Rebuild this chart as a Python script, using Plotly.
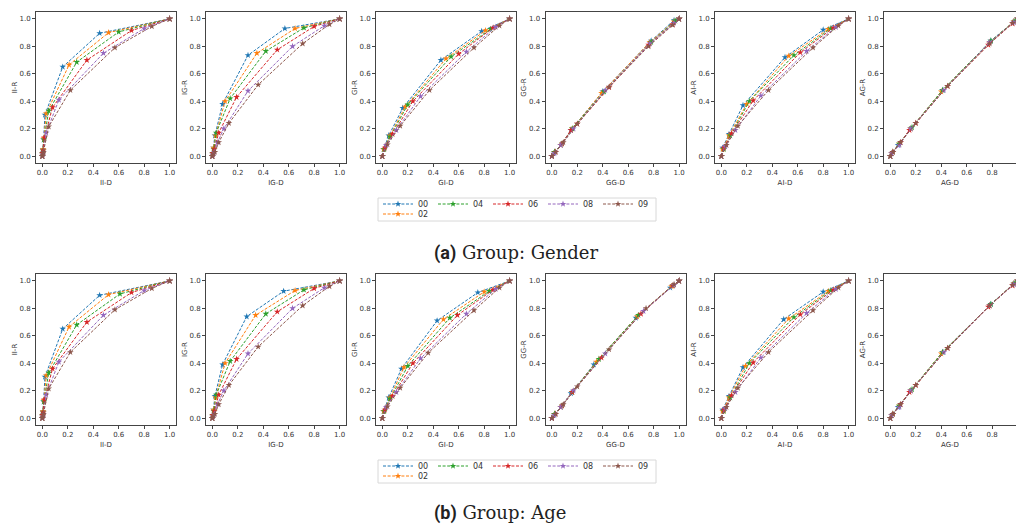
import plotly.graph_objects as go

SERIES = ["00", "02", "04", "06", "08", "09"]
COLORS = ["#1f77b4", "#ff7f0e", "#2ca02c", "#d62728", "#9467bd", "#8c564b"]
PANELS = ["II", "IG", "GI", "GG", "AI", "AG"]

# ---------------- Group: Gender ----------------
GENDER_II_D = [[0, 0.002, 0.005, 0.01, 0.02, 0.16, 0.45, 1.0],
               [0, 0.002, 0.006, 0.012, 0.03, 0.21, 0.52, 1.0],
               [0, 0.002, 0.006, 0.012, 0.05, 0.27, 0.60, 1.0],
               [0, 0.002, 0.007, 0.016, 0.08, 0.35, 0.70, 1.0],
               [0, 0.002, 0.008, 0.03, 0.13, 0.48, 0.80, 1.0],
               [0, 0.002, 0.008, 0.05, 0.22, 0.57, 0.86, 1.0]]
GENDER_II_R = [[0, 0.02, 0.05, 0.12, 0.30, 0.65, 0.895, 1.0],
               [0, 0.02, 0.05, 0.13, 0.31, 0.665, 0.90, 1.0],
               [0, 0.02, 0.04, 0.12, 0.33, 0.685, 0.905, 1.0],
               [0, 0.02, 0.04, 0.135, 0.355, 0.70, 0.915, 1.0],
               [0, 0.01, 0.03, 0.17, 0.41, 0.75, 0.93, 1.0],
               [0, 0.01, 0.03, 0.215, 0.48, 0.79, 0.945, 1.0]]
GENDER_IG_D = [[0, 0.003, 0.01, 0.02, 0.08, 0.28, 0.57, 1.0],
               [0, 0.003, 0.01, 0.025, 0.10, 0.35, 0.65, 1.0],
               [0, 0.004, 0.012, 0.03, 0.14, 0.42, 0.72, 1.0],
               [0, 0.004, 0.015, 0.05, 0.19, 0.51, 0.80, 1.0],
               [0, 0.004, 0.015, 0.04, 0.09, 0.28, 0.63, 0.88, 1.0],
               [0, 0.004, 0.02, 0.05, 0.13, 0.36, 0.71, 0.92, 1.0]]
GENDER_IG_R = [[0, 0.02, 0.06, 0.15, 0.38, 0.735, 0.93, 1.0],
               [0, 0.02, 0.06, 0.15, 0.40, 0.75, 0.93, 1.0],
               [0, 0.02, 0.05, 0.17, 0.42, 0.765, 0.935, 1.0],
               [0, 0.02, 0.05, 0.17, 0.43, 0.775, 0.945, 1.0],
               [0, 0.01, 0.03, 0.10, 0.20, 0.475, 0.80, 0.95, 1.0],
               [0, 0.01, 0.03, 0.10, 0.24, 0.52, 0.82, 0.96, 1.0]]
GENDER_GI_D = [[0, 0.01, 0.05, 0.16, 0.46, 0.78, 1.0],
               [0, 0.01, 0.06, 0.18, 0.50, 0.81, 1.0],
               [0, 0.015, 0.06, 0.20, 0.54, 0.85, 1.0],
               [0, 0.02, 0.08, 0.24, 0.60, 0.87, 1.0],
               [0, 0.03, 0.11, 0.30, 0.66, 0.89, 1.0],
               [0, 0.04, 0.14, 0.37, 0.72, 0.92, 1.0]]
GENDER_GI_R = [[0, 0.05, 0.15, 0.35, 0.70, 0.91, 1.0],
               [0, 0.05, 0.15, 0.36, 0.71, 0.915, 1.0],
               [0, 0.05, 0.14, 0.375, 0.725, 0.925, 1.0],
               [0, 0.06, 0.16, 0.40, 0.745, 0.935, 1.0],
               [0, 0.08, 0.19, 0.435, 0.76, 0.94, 1.0],
               [0, 0.085, 0.22, 0.48, 0.79, 0.95, 1.0]]
GENDER_GG_D = [[0, 0.02, 0.07, 0.15, 0.40, 0.78, 0.96, 1.0],
               [0, 0.02, 0.07, 0.16, 0.39, 0.77, 0.96, 1.0],
               [0, 0.02, 0.08, 0.16, 0.41, 0.78, 0.97, 1.0],
               [0, 0.03, 0.08, 0.15, 0.20, 0.45, 0.76, 0.95, 1.0],
               [0, 0.02, 0.07, 0.17, 0.42, 0.77, 0.96, 1.0],
               [0, 0.03, 0.09, 0.20, 0.45, 0.76, 0.95, 1.0]]
GENDER_GG_R = [[0, 0.03, 0.08, 0.19, 0.47, 0.84, 0.99, 1.0],
               [0, 0.03, 0.08, 0.20, 0.46, 0.83, 0.98, 1.0],
               [0, 0.03, 0.09, 0.20, 0.47, 0.83, 0.985, 1.0],
               [0, 0.03, 0.09, 0.19, 0.235, 0.50, 0.81, 0.96, 1.0],
               [0, 0.02, 0.08, 0.20, 0.48, 0.82, 0.97, 1.0],
               [0, 0.03, 0.10, 0.235, 0.505, 0.80, 0.955, 1.0]]
GENDER_AI_D = [[0, 0.01, 0.06, 0.17, 0.50, 0.80, 1.0],
               [0, 0.01, 0.06, 0.20, 0.53, 0.84, 1.0],
               [0, 0.02, 0.07, 0.22, 0.57, 0.86, 1.0],
               [0, 0.02, 0.08, 0.25, 0.62, 0.88, 1.0],
               [0, 0.03, 0.11, 0.31, 0.67, 0.90, 1.0],
               [0, 0.04, 0.13, 0.37, 0.72, 0.92, 1.0]]
GENDER_AI_R = [[0, 0.06, 0.16, 0.37, 0.72, 0.92, 1.0],
               [0, 0.05, 0.15, 0.38, 0.73, 0.925, 1.0],
               [0, 0.05, 0.15, 0.40, 0.735, 0.93, 1.0],
               [0, 0.06, 0.165, 0.405, 0.755, 0.935, 1.0],
               [0, 0.07, 0.19, 0.44, 0.765, 0.94, 1.0],
               [0, 0.08, 0.22, 0.48, 0.79, 0.95, 1.0]]
GENDER_AG_D = [[0, 0.01, 0.06, 0.16, 0.41, 0.79, 0.97, 1.0],
               [0, 0.01, 0.07, 0.16, 0.40, 0.78, 0.97, 1.0],
               [0, 0.02, 0.07, 0.17, 0.41, 0.79, 0.98, 1.0],
               [0, 0.02, 0.08, 0.15, 0.20, 0.45, 0.77, 0.96, 1.0],
               [0, 0.01, 0.07, 0.16, 0.42, 0.78, 0.97, 1.0],
               [0, 0.02, 0.08, 0.20, 0.45, 0.78, 0.96, 1.0]]
GENDER_AG_R = [[0, 0.02, 0.08, 0.20, 0.48, 0.84, 0.98, 1.0],
               [0, 0.02, 0.09, 0.20, 0.47, 0.83, 0.98, 1.0],
               [0, 0.03, 0.09, 0.21, 0.48, 0.84, 0.985, 1.0],
               [0, 0.03, 0.10, 0.19, 0.24, 0.51, 0.81, 0.965, 1.0],
               [0, 0.02, 0.08, 0.20, 0.48, 0.83, 0.975, 1.0],
               [0, 0.03, 0.10, 0.24, 0.51, 0.82, 0.97, 1.0]]

# ---------------- Group: Age ----------------
AGE_II_D = [[0, 0.002, 0.005, 0.01, 0.02, 0.16, 0.45, 1.0],
            [0, 0.002, 0.006, 0.012, 0.03, 0.21, 0.52, 1.0],
            [0, 0.002, 0.006, 0.012, 0.05, 0.27, 0.61, 1.0],
            [0, 0.002, 0.007, 0.016, 0.08, 0.35, 0.70, 1.0],
            [0, 0.002, 0.008, 0.03, 0.13, 0.48, 0.80, 1.0],
            [0, 0.002, 0.008, 0.05, 0.22, 0.57, 0.86, 1.0]]
AGE_II_R = [[0, 0.02, 0.05, 0.12, 0.30, 0.65, 0.895, 1.0],
            [0, 0.02, 0.05, 0.13, 0.31, 0.665, 0.90, 1.0],
            [0, 0.02, 0.04, 0.12, 0.33, 0.68, 0.905, 1.0],
            [0, 0.02, 0.04, 0.135, 0.36, 0.70, 0.915, 1.0],
            [0, 0.01, 0.03, 0.17, 0.41, 0.75, 0.93, 1.0],
            [0, 0.01, 0.03, 0.215, 0.48, 0.79, 0.945, 1.0]]
AGE_IG_D = [[0, 0.003, 0.01, 0.02, 0.08, 0.27, 0.56, 1.0],
            [0, 0.003, 0.01, 0.025, 0.10, 0.34, 0.65, 1.0],
            [0, 0.004, 0.012, 0.03, 0.14, 0.42, 0.72, 1.0],
            [0, 0.004, 0.015, 0.05, 0.19, 0.51, 0.80, 1.0],
            [0, 0.004, 0.015, 0.04, 0.09, 0.28, 0.63, 0.88, 1.0],
            [0, 0.004, 0.02, 0.05, 0.13, 0.36, 0.71, 0.92, 1.0]]
AGE_IG_R = [[0, 0.02, 0.06, 0.16, 0.39, 0.74, 0.925, 1.0],
            [0, 0.02, 0.06, 0.15, 0.40, 0.75, 0.93, 1.0],
            [0, 0.02, 0.05, 0.17, 0.415, 0.76, 0.935, 1.0],
            [0, 0.02, 0.05, 0.17, 0.43, 0.775, 0.945, 1.0],
            [0, 0.01, 0.03, 0.10, 0.20, 0.47, 0.80, 0.95, 1.0],
            [0, 0.01, 0.03, 0.10, 0.24, 0.52, 0.82, 0.96, 1.0]]
AGE_GI_D = [[0, 0.01, 0.05, 0.15, 0.43, 0.75, 1.0],
            [0, 0.01, 0.06, 0.17, 0.48, 0.80, 1.0],
            [0, 0.015, 0.06, 0.20, 0.53, 0.84, 1.0],
            [0, 0.02, 0.08, 0.24, 0.59, 0.87, 1.0],
            [0, 0.03, 0.11, 0.30, 0.66, 0.89, 1.0],
            [0, 0.04, 0.14, 0.36, 0.72, 0.92, 1.0]]
AGE_GI_R = [[0, 0.05, 0.15, 0.36, 0.71, 0.915, 1.0],
            [0, 0.05, 0.15, 0.37, 0.72, 0.92, 1.0],
            [0, 0.05, 0.14, 0.38, 0.73, 0.925, 1.0],
            [0, 0.06, 0.16, 0.40, 0.75, 0.935, 1.0],
            [0, 0.08, 0.19, 0.435, 0.76, 0.94, 1.0],
            [0, 0.085, 0.22, 0.475, 0.785, 0.95, 1.0]]
AGE_GG_D = [[0, 0.02, 0.07, 0.15, 0.33, 0.66, 0.93, 1.0],
            [0, 0.02, 0.07, 0.16, 0.35, 0.67, 0.94, 1.0],
            [0, 0.02, 0.08, 0.16, 0.37, 0.68, 0.95, 1.0],
            [0, 0.03, 0.08, 0.16, 0.39, 0.70, 0.95, 1.0],
            [0, 0.02, 0.07, 0.17, 0.42, 0.72, 0.96, 1.0],
            [0, 0.03, 0.09, 0.20, 0.45, 0.74, 0.96, 1.0]]
AGE_GG_R = [[0, 0.03, 0.08, 0.18, 0.39, 0.73, 0.95, 1.0],
            [0, 0.03, 0.08, 0.19, 0.41, 0.74, 0.96, 1.0],
            [0, 0.03, 0.09, 0.19, 0.43, 0.75, 0.965, 1.0],
            [0, 0.03, 0.09, 0.19, 0.44, 0.76, 0.965, 1.0],
            [0, 0.02, 0.08, 0.20, 0.47, 0.78, 0.97, 1.0],
            [0, 0.03, 0.10, 0.23, 0.50, 0.80, 0.975, 1.0]]
AGE_AI_D = [[0, 0.01, 0.06, 0.17, 0.49, 0.80, 1.0],
            [0, 0.01, 0.06, 0.19, 0.53, 0.84, 1.0],
            [0, 0.02, 0.07, 0.22, 0.57, 0.86, 1.0],
            [0, 0.02, 0.08, 0.25, 0.62, 0.88, 1.0],
            [0, 0.03, 0.11, 0.31, 0.67, 0.90, 1.0],
            [0, 0.04, 0.13, 0.37, 0.72, 0.92, 1.0]]
AGE_AI_R = [[0, 0.06, 0.16, 0.37, 0.72, 0.92, 1.0],
            [0, 0.05, 0.15, 0.38, 0.725, 0.925, 1.0],
            [0, 0.05, 0.15, 0.40, 0.735, 0.93, 1.0],
            [0, 0.06, 0.165, 0.405, 0.755, 0.935, 1.0],
            [0, 0.07, 0.19, 0.44, 0.765, 0.94, 1.0],
            [0, 0.08, 0.22, 0.48, 0.785, 0.95, 1.0]]
AGE_AG_D = [[0, 0.01, 0.06, 0.16, 0.41, 0.79, 0.97, 1.0],
            [0, 0.01, 0.07, 0.16, 0.40, 0.78, 0.97, 1.0],
            [0, 0.02, 0.07, 0.17, 0.41, 0.79, 0.98, 1.0],
            [0, 0.02, 0.08, 0.15, 0.20, 0.45, 0.77, 0.96, 1.0],
            [0, 0.01, 0.07, 0.16, 0.42, 0.78, 0.97, 1.0],
            [0, 0.02, 0.08, 0.20, 0.45, 0.78, 0.96, 1.0]]
AGE_AG_R = [[0, 0.02, 0.08, 0.20, 0.48, 0.83, 0.98, 1.0],
            [0, 0.02, 0.09, 0.20, 0.47, 0.82, 0.98, 1.0],
            [0, 0.03, 0.09, 0.21, 0.48, 0.83, 0.985, 1.0],
            [0, 0.03, 0.10, 0.19, 0.24, 0.51, 0.81, 0.965, 1.0],
            [0, 0.02, 0.08, 0.20, 0.48, 0.82, 0.975, 1.0],
            [0, 0.03, 0.10, 0.24, 0.51, 0.82, 0.97, 1.0]]

TICKS = [0.0, 0.2, 0.4, 0.6, 0.8, 1.0]
CAPTIONS = ["(a)", "(b)"]
CAPTION_TEXT = ["Group: Gender", "Group: Age"]

GROUPS = [
    [(GENDER_II_D, GENDER_II_R), (GENDER_IG_D, GENDER_IG_R), (GENDER_GI_D, GENDER_GI_R),
     (GENDER_GG_D, GENDER_GG_R), (GENDER_AI_D, GENDER_AI_R), (GENDER_AG_D, GENDER_AG_R)],
    [(AGE_II_D, AGE_II_R), (AGE_IG_D, AGE_IG_R), (AGE_GI_D, AGE_GI_R),
     (AGE_GG_D, AGE_GG_R), (AGE_AI_D, AGE_AI_R), (AGE_AG_D, AGE_AG_R)],
]

W, H = 1016, 526
COL_LEFT = [36, 206, 376, 545.5, 715, 884]
PW = 140
ROW_TOP = [12, 274]
PH = 151

fig = go.Figure()
layout = dict(width=W, height=H, margin=dict(l=0, r=0, t=0, b=0),
              paper_bgcolor="white", plot_bgcolor="white", showlegend=True,
              annotations=[], shapes=[])

tick_font = dict(family="DejaVu Sans", size=7, color="#333")
idx = 0
for g, group in enumerate(GROUPS):
    for c, (dvals, rvals) in enumerate(group):
        idx += 1
        sfx = "" if idx == 1 else str(idx)
        x0 = COL_LEFT[c] / W
        x1 = min((COL_LEFT[c] + PW) / W, 1.0)
        y1 = 1 - ROW_TOP[g] / H
        y0 = 1 - (ROW_TOP[g] + PH) / H
        last = (c == 5)
        xr = [-0.05, 1.05]
        if last:
            xr = [-0.05, -0.05 + 1.1 * (W - COL_LEFT[c]) / PW]
        layout["xaxis" + sfx] = dict(
            domain=[x0, x1], anchor="y" + sfx, range=xr, tickvals=TICKS,
            ticktext=["%.1f" % t for t in TICKS], showgrid=False, zeroline=False,
            showline=True, mirror=True, linecolor="#444", linewidth=1,
            ticks="outside", ticklen=3, tickwidth=1, tickcolor="#444",
            tickfont=tick_font,
            title=dict(text=PANELS[c] + "-D", font=tick_font, standoff=3))
        layout["yaxis" + sfx] = dict(
            domain=[y0, y1], anchor="x" + sfx, range=[-0.05, 1.05], tickvals=TICKS,
            ticktext=["%.1f" % t for t in TICKS], showgrid=False, zeroline=False,
            showline=True, mirror=(not last), linecolor="#444", linewidth=1,
            ticks="outside", ticklen=3, tickwidth=1, tickcolor="#444",
            tickfont=tick_font,
            title=dict(text=PANELS[c] + "-R", font=tick_font, standoff=1))
        for s in range(6):
            show = (c == 0)
            leg = "legend" + ("" if g == 0 else str(2 * g + 1))
            if s == 1:
                leg = "legend" + str(2 * g + 2)
            fig.add_trace(go.Scatter(
                x=dvals[s], y=rvals[s], mode="lines+markers", name=SERIES[s],
                xaxis="x" + sfx, yaxis="y" + sfx,
                line=dict(color=COLORS[s], width=1, dash="3px,1.6px"),
                marker=dict(symbol="star", size=5, color=COLORS[s]),
                showlegend=show, legend=leg, cliponaxis=True))

LEG_X = 378
LEG_Y = [204, 466]
for g in range(2):
    base = dict(orientation="h", xanchor="left", yanchor="middle",
                font=dict(family="DejaVu Sans", size=8, color="#333"),
                bgcolor="rgba(0,0,0,0)", borderwidth=0, itemwidth=30,
                entrywidth=10, tracegroupgap=0)
    n1 = "legend" + ("" if g == 0 else str(2 * g + 1))
    n2 = "legend" + str(2 * g + 2)
    layout[n1] = dict(base, x=LEG_X / W, y=1 - LEG_Y[g] / H)
    layout[n2] = dict(base, x=LEG_X / W, y=1 - (LEG_Y[g] + 10) / H)
    layout["shapes"].append(dict(type="rect", xref="paper", yref="paper",
                                 x0=(LEG_X) / W, x1=(LEG_X + 278) / W,
                                 y0=1 - (LEG_Y[g] - 6) / H, y1=1 - (LEG_Y[g] + 17) / H,
                                 line=dict(color="#d8d8d8", width=1)))
    cap_y = [253, 513][g]
    layout["annotations"].append(dict(
        xref="paper", yref="paper", x=432 / W, y=1 - cap_y / H,
        xanchor="left", yanchor="middle", showarrow=False,
        text="<span style='font-family:Roboto'><b>" + CAPTIONS[g] + "</b></span> " + CAPTION_TEXT[g],
        font=dict(family="DejaVu Serif", size=18, color="#222")))

fig.update_layout(**layout)
fig.write_html("out.html")
